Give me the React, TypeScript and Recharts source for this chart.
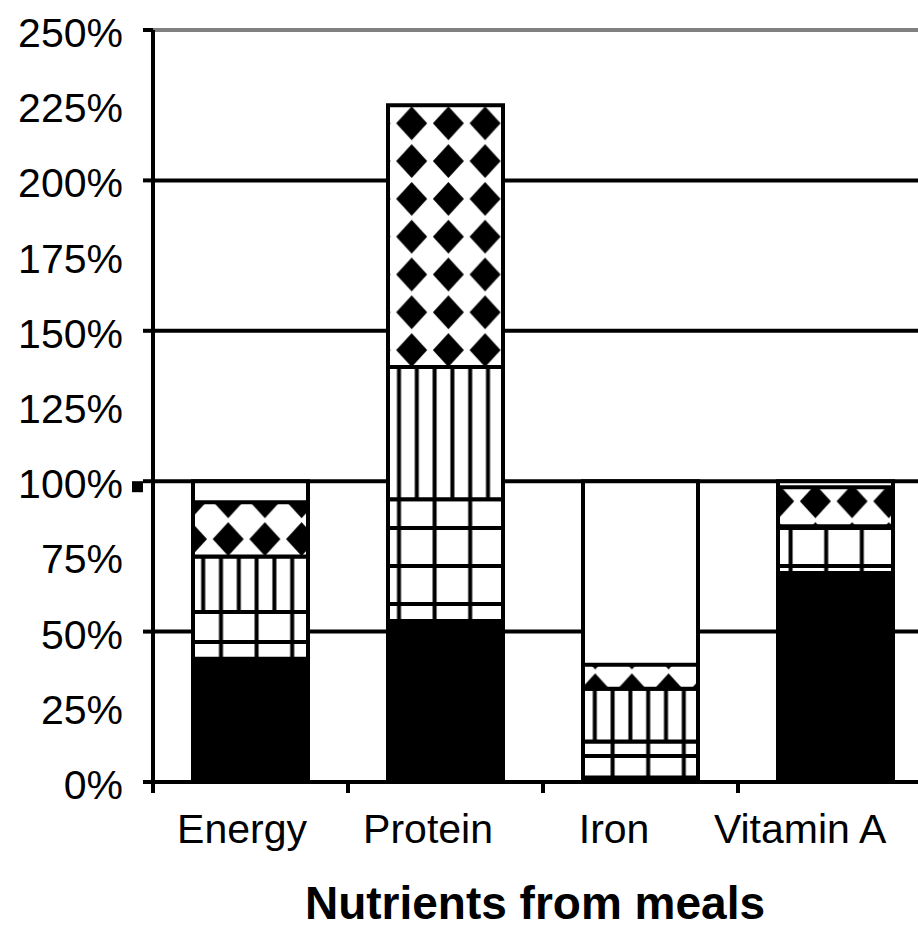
import React from "react";
import { BarChart, Bar, XAxis, YAxis, CartesianGrid, Label } from "recharts";

// ---- data ----
const categories = ["Energy", "Protein", "Iron", "Vitamin A"];
const meal1 = [41, 53.5, 1.5, 69.5]; // solid black
const meal2 = [15.5, 40.5, 12, 15.5]; // grid
const meal3 = [18.5, 44, 17.5, 0]; // vertical stripes
const meal4 = [18, 87, 8, 13]; // diamonds
const requirement = [100, 100, 100, 100]; // white 100% box
const yTicks = [0, 25, 50, 75, 100, 125, 150, 175, 200, 225, 250];
const gridValues = [50, 100, 150, 200];
const topValues = [250];
const xTitle = "Nutrients from meals";

const data = categories.map((name, i) => ({
  name,
  m1: meal1[i],
  m2: meal2[i],
  m3: meal3[i],
  m4: meal4[i],
  req: requirement[i],
}));

// ---- layout ----
const FONT = "'Liberation Sans', Arial, Helvetica, sans-serif";
const CHART_W = 940;
const CHART_H = 929;
const Y_AXIS_W = 153;
const RIGHT_M = 7;
const TOP_M = 30;
const X_AXIS_H = 147;
const BAND = (CHART_W - Y_AXIS_W - RIGHT_M) / categories.length;
const BAR_SIZE = 115;
const LABEL_SCALE = 0.954;

const YTick = (props: any) => {
  const { x, y, payload } = props;
  const v = payload.value;
  return (
    <g>
      {v % 50 === 0 && (
        <line x1={x - 10} x2={x} y1={y} y2={y} stroke="#000" strokeWidth={4} />
      )}
      {v === 100 && <rect x={x - 21} y={y} width={11} height={11} fill="#000" />}
      <text
        x={x - 30}
        y={y + 17}
        textAnchor="end"
        fontSize={41}
        fontFamily={FONT}
        fill="#000"
      >
        {v}%
      </text>
    </g>
  );
};

const XTick = (props: any) => {
  const { x, y, payload } = props;
  const lx = Y_AXIS_W + (x - Y_AXIS_W) * LABEL_SCALE - 4;
  return (
    <g>
      <line
        x1={x - BAND / 2}
        x2={x - BAND / 2}
        y1={y}
        y2={y + 11}
        stroke="#000"
        strokeWidth={4}
      />
      <text
        x={lx}
        y={y + 61}
        textAnchor="middle"
        fontSize={41}
        fontFamily={FONT}
        fill="#000"
      >
        {payload.value}
      </text>
    </g>
  );
};

const TitleLabel = (props: any) => {
  const vb = props.viewBox || {};
  return (
    <text
      x={vb.x + vb.width / 2 - 8}
      y={vb.y + vb.height - 10}
      textAnchor="middle"
      fontSize={46}
      fontWeight="bold"
      fontFamily={FONT}
      fill="#000"
    >
      {xTitle}
    </text>
  );
};

const Patterns = () => (
  <svg width={0} height={0} style={{ position: "absolute" }}>
    <defs>
      <pattern id="pGrid" patternUnits="userSpaceOnUse" width={35.6} height={38}>
        <rect x={0} y={0} width={35.6} height={38} fill="#fff" />
        <rect x={5.4} y={0} width={4} height={38} fill="#000" />
        <rect x={0} y={32} width={35.6} height={4} fill="#000" />
      </pattern>
      <pattern id="pStripe" patternUnits="userSpaceOnUse" width={17.8} height={10}>
        <rect x={0} y={0} width={17.8} height={10} fill="#fff" />
        <rect x={5.4} y={0} width={4} height={10} fill="#000" />
      </pattern>
      <pattern
        id="pDiamond"
        patternUnits="userSpaceOnUse"
        x={-10.35}
        y={-9}
        width={36.7}
        height={37.8}
      >
        <rect x={0} y={0} width={36.7} height={37.8} fill="#fff" />
        <polygon
          points="18.35,1.9 33.85,18.9 18.35,35.9 2.85,18.9"
          fill="#000"
        />
      </pattern>
    </defs>
  </svg>
);

export default function App() {
  return (
    <div
      style={{
        position: "absolute",
        left: 0,
        top: 0,
        width: 918,
        height: 929,
        overflow: "hidden",
        background: "#fff",
      }}
    >
      <Patterns />
      <BarChart
        width={CHART_W}
        height={CHART_H}
        data={data}
        margin={{ top: TOP_M, right: RIGHT_M, bottom: 0, left: 0 }}
      >
        <CartesianGrid
          vertical={false}
          horizontalValues={gridValues}
          stroke="#000"
          strokeWidth={4}
        />
        <CartesianGrid
          vertical={false}
          horizontalValues={topValues}
          stroke="#808080"
          strokeWidth={4}
        />
        <XAxis xAxisId="bg" dataKey="name" hide />
        <XAxis
          dataKey="name"
          height={X_AXIS_H}
          axisLine={{ stroke: "#000", strokeWidth: 4 }}
          tickLine={false}
          tickSize={0}
          tickMargin={0}
          tick={<XTick />}
          interval={0}
        >
          <Label content={<TitleLabel />} position="insideBottom" />
        </XAxis>
        <YAxis
          width={Y_AXIS_W}
          domain={[0, 250]}
          ticks={yTicks}
          interval={0}
          allowDataOverflow
          axisLine={{ stroke: "#000", strokeWidth: 4 }}
          tickLine={false}
          tickSize={0}
          tickMargin={0}
          tick={<YTick />}
        />
        <Bar
          xAxisId="bg"
          dataKey="req"
          name="Requirement"
          fill="#fff"
          stroke="#000"
          strokeWidth={4}
          barSize={BAR_SIZE}
          isAnimationActive={false}
        />
        <Bar
          dataKey="m1"
          name="Meal 1"
          stackId="a"
          fill="#000"
          stroke="#000"
          strokeWidth={4}
          barSize={BAR_SIZE}
          isAnimationActive={false}
        />
        <Bar
          dataKey="m2"
          name="Meal 2"
          stackId="a"
          fill="url(#pGrid)"
          stroke="#000"
          strokeWidth={4}
          barSize={BAR_SIZE}
          isAnimationActive={false}
        />
        <Bar
          dataKey="m3"
          name="Meal 3"
          stackId="a"
          fill="url(#pStripe)"
          stroke="#000"
          strokeWidth={4}
          barSize={BAR_SIZE}
          isAnimationActive={false}
        />
        <Bar
          dataKey="m4"
          name="Meal 4"
          stackId="a"
          fill="url(#pDiamond)"
          stroke="#000"
          strokeWidth={4}
          barSize={BAR_SIZE}
          isAnimationActive={false}
        />
      </BarChart>
    </div>
  );
}
